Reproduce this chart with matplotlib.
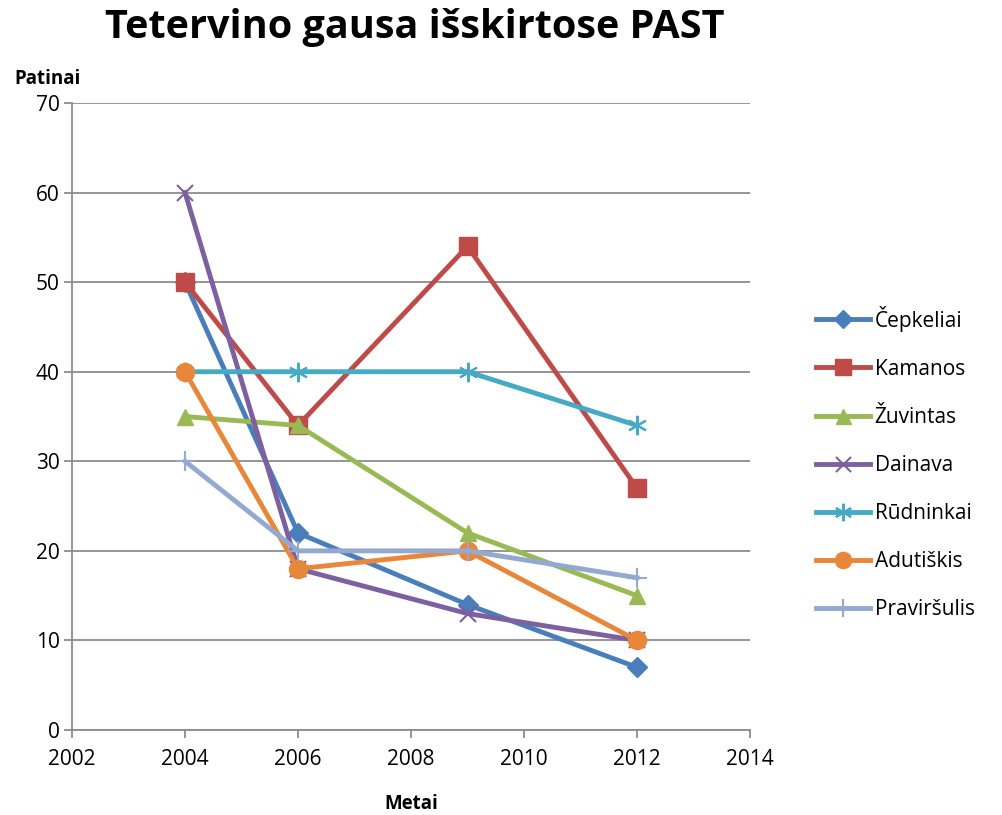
import matplotlib.pyplot as plt

# data
years = [2004, 2006, 2009, 2012]
cepkeliai = [50, 22, 14, 7]
kamanos = [50, 34, 54, 27]
zuvintas = [35, 34, 22, 15]
dainava = [60, 18, 13, 10]
rudninkai = [40, 40, 40, 34]
adutiskis = [40, 18, 20, 10]
pravirsulis = [30, 20, 20, 17]

names = ['Čepkeliai', 'Kamanos', 'Žuvintas', 'Dainava', 'Rūdninkai', 'Adutiškis', 'Praviršulis']
series = [cepkeliai, kamanos, zuvintas, dainava, rudninkai, adutiskis, pravirsulis]
colors = ['#4A7EBB', '#BE4B48', '#98B954', '#7D60A0', '#46AAC5', '#E8873A', '#93A9CF']
markers = ['D', 's', '^', 'x', (6, 2, 0), 'o', '+']
msizes = [10, 13, 12, 12, 14, 13, 14]

plt.rcParams['font.family'] = ['Open Sans', 'DejaVu Sans']

fig = plt.figure(figsize=(10.02, 8.15), dpi=100)
ax = fig.add_axes([0.0719, 0.1043, 0.6766, 0.7693])

for ys, name, c, m, ms in zip(series, names, colors, markers, msizes):
    mew = 1.5 if m in ('x', '+') or isinstance(m, tuple) else 1
    ax.plot(years, ys, color=c, lw=3.5, marker=m, ms=ms, mew=mew, label=name)

ax.set_xlim(2002, 2014)
ax.set_ylim(0, 70)
ax.set_xticks(range(2002, 2015, 2))
ax.set_yticks(range(0, 71, 10))
ax.yaxis.grid(True, color='#8C8C8C', lw=1.3)
ax.set_axisbelow(True)
for s in ['top', 'right']:
    ax.spines[s].set_visible(False)
for s in ['left', 'bottom']:
    ax.spines[s].set_color('#8C8C8C')
    ax.spines[s].set_linewidth(1.3)
ax.tick_params(axis='both', direction='out', length=6, color='#8C8C8C', width=1.3,
               labelsize=15)
ax.tick_params(axis='x', pad=8)
ax.tick_params(axis='y', pad=3)

ax.set_xlabel('Metai', fontsize=13.5, fontweight='bold', labelpad=17)
fig.text(0.014, 0.897, 'Patinai', fontsize=13.5, fontweight='bold')
fig.suptitle('Tetervino gausa išskirtose PAST', fontsize=28.5, fontweight='bold', x=0.414, y=0.99)

ax.legend(loc='center left', bbox_to_anchor=(1.07, 0.426), frameon=False, fontsize=15,
          handlelength=2.6, labelspacing=1.3, handletextpad=0.2, markerscale=0.9)

fig.savefig('out.png', dpi=100)
